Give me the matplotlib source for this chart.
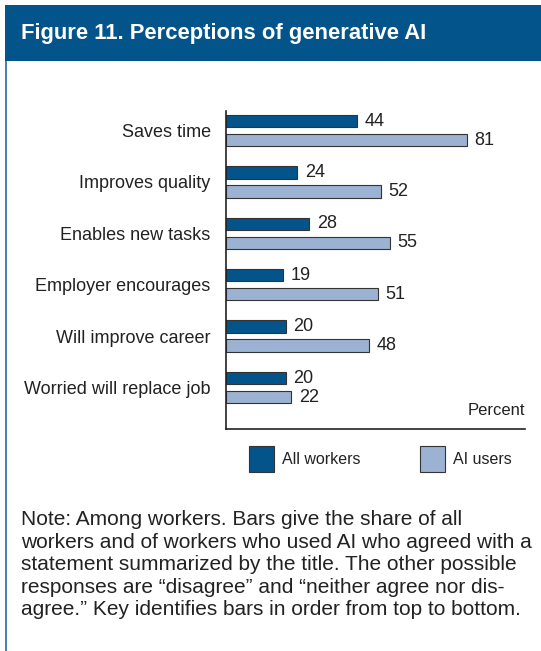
import matplotlib.pyplot as plt
from matplotlib.patches import Rectangle

# Survey statements and the share agreeing (percent)
statements = ['Saves time', 'Improves quality', 'Enables new tasks',
              'Employer encourages', 'Will improve career',
              'Worried will replace job']
all_workers = [44, 24, 28, 19, 20, 20]
ai_users = [81, 52, 55, 51, 48, 22]
series_names = ['All workers', 'AI users']

dark_blue = '#03548a'
light_blue = '#9bb2d2'
text_col = '#222222'

plt.rcParams['font.family'] = 'Liberation Sans'

fig = plt.figure(figsize=(5.41, 6.51), dpi=100)
W, H = 541, 651

# title banner and left rule
fig.patches.append(Rectangle((5 / W, 1 - 61 / H), 1, 56 / H, transform=fig.transFigure,
                             facecolor=dark_blue, edgecolor='none'))
fig.patches.append(Rectangle((5 / W, 0), 2 / W, 1 - 61 / H, transform=fig.transFigure,
                             facecolor='#4f7fae', edgecolor='none'))
fig.text(21 / W, 1 - 33 / H, 'Figure 11. Perceptions of generative AI',
         color='white', fontsize=15.8, fontweight='bold',
         va='center', ha='left')

ax = fig.add_axes([226 / W, 1 - 429 / H, 299 / W, 318 / H])
y = list(range(len(statements)))
h = 0.243
off = 0.185
ax.barh([i - off for i in y], all_workers, height=h, color=dark_blue,
        edgecolor='#333333', linewidth=0.8)
ax.barh([i + off for i in y], ai_users, height=h, color=light_blue,
        edgecolor='#333333', linewidth=0.8)
for i in y:
    ax.text(all_workers[i] + 2.6, i - off, str(all_workers[i]), va='center',
            ha='left', fontsize=13, color=text_col)
    ax.text(ai_users[i] + 2.6, i + off, str(ai_users[i]), va='center',
            ha='left', fontsize=13, color=text_col)

ax.set_xlim(0, 100.5)
ax.set_ylim(5.807, -0.38)
ax.set_yticks(y)
ax.set_yticklabels(statements, fontsize=13, color=text_col)
ax.tick_params(axis='y', length=0, pad=11)
ax.set_xticks([])
for s in ['top', 'right']:
    ax.spines[s].set_visible(False)
for s in ['left', 'bottom']:
    ax.spines[s].set_color('#222222')
    ax.spines[s].set_linewidth(1.2)
ax.text(1, 0.035, 'Percent', transform=ax.transAxes, ha='right', va='bottom',
        fontsize=12, color=text_col)

# key below the chart
for (x0, name, col) in [(249, series_names[0], dark_blue), (420, series_names[1], light_blue)]:
    fig.patches.append(Rectangle((x0 / W, 1 - 472 / H), 25 / W, 26 / H,
                                 transform=fig.transFigure, facecolor=col,
                                 edgecolor='#333333', linewidth=0.8))
    fig.text((x0 + 33) / W, 1 - 460 / H, name, fontsize=11.5, color=text_col,
             va='center', ha='left')

note = ('Note: Among workers. Bars give the share of all\n'
        'workers and of workers who used AI who agreed with a\n'
        'statement summarized by the title. The other possible\n'
        'responses are \u201cdisagree\u201d and \u201cneither agree nor dis-\n'
        'agree.\u201d Key identifies bars in order from top to bottom.')
fig.text(21 / W, 1 - 510 / H, note, fontsize=15.0, color=text_col,
         va='top', ha='left', linespacing=1.24)

fig.savefig('out.png', dpi=100)
